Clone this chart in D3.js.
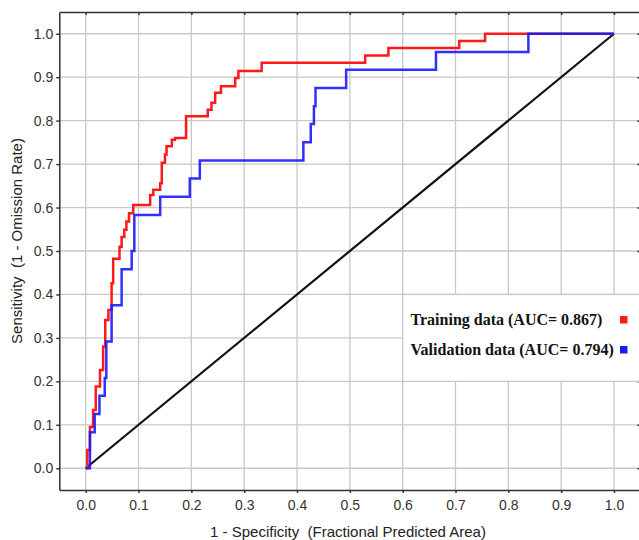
<!DOCTYPE html>
<meta charset="utf-8">
<style>

body {
  margin: 0;
  background: white;
}

.grid line {
  stroke: #c8c8c8;
  stroke-width: 1.3px;
}

.axis path,
.axis line {
  stroke: #333;
  stroke-width: 1.5px;
}

.axis text {
  font: 14px "Liberation Sans", Arial, sans-serif;
  fill: #333;
}

.title {
  font: 15px "Liberation Sans", Arial, sans-serif;
  fill: #222;
  text-anchor: middle;
  white-space: pre;
}

.legend text {
  font: bold 16px "Liberation Serif", "Times New Roman", serif;
  fill: #111;
}

.roc {
  fill: none;
  stroke-width: 2.5px;
  stroke-linejoin: miter;
}

</style>
<svg></svg>
<script src="https://cdn.jsdelivr.net/npm/d3@7"></script>
<script>

var tickValues = [0, 0.1, 0.2, 0.3, 0.4, 0.5, 0.6, 0.7, 0.8, 0.9, 1.0];

// Training ROC (1 - specificity, sensitivity), step corners
var trainFpr = [0, 0.003, 0.008, 0.014, 0.019, 0.027, 0.033, 0.037, 0.043, 0.049,
  0.052, 0.064, 0.068, 0.073, 0.077, 0.082, 0.090, 0.122, 0.128, 0.141,
  0.144, 0.150, 0.153, 0.163, 0.169, 0.190, 0.231, 0.238, 0.245, 0.256,
  0.283, 0.289, 0.333, 0.529, 0.573, 0.707, 0.756, 1.0];
var trainTpr = [0, 0.042, 0.095, 0.134, 0.188, 0.226, 0.280, 0.341, 0.364, 0.426,
  0.482, 0.510, 0.532, 0.549, 0.568, 0.587, 0.606, 0.629, 0.641, 0.656,
  0.703, 0.722, 0.741, 0.756, 0.760, 0.810, 0.825, 0.841, 0.864, 0.879,
  0.898, 0.914, 0.933, 0.950, 0.967, 0.983, 1.0, 1.0];

// Validation ROC
var validFpr = [0, 0.008, 0.017, 0.026, 0.036, 0.039, 0.049, 0.068, 0.087, 0.092,
  0.141, 0.197, 0.216, 0.412, 0.426, 0.432, 0.435, 0.493, 0.663, 0.838, 1.0];
var validTpr = [0, 0.083, 0.125, 0.167, 0.208, 0.292, 0.375, 0.458, 0.5, 0.583,
  0.625, 0.667, 0.708, 0.75, 0.792, 0.833, 0.875, 0.917, 0.958, 1.0, 1.0];

var randomLine = [0, 1];

var legendLabels = ['Training data (AUC= 0.867)', 'Validation data (AUC= 0.794)'];
var legendColors = ['#ff1a1a', '#1a1aff'];

var width = 639;
var height = 540;
var plotLeft = 59.3, plotRight = 640.4, plotTop = 12, plotBottom = 490;

var svg = d3.select('svg')
  .attr('width', width)
  .attr('height', height);

var x = d3.scaleLinear().domain([-0.05, 1.05]).range([plotLeft, plotRight]);
var y = d3.scaleLinear().domain([-0.05, 1.05]).range([plotBottom, plotTop]);

var grid = svg.append('g').attr('class', 'grid');

grid.selectAll('line.v')
  .data(tickValues)
  .enter().append('line')
  .attr('class', 'v')
  .attr('x1', function (d) { return x(d); })
  .attr('x2', function (d) { return x(d); })
  .attr('y1', plotTop)
  .attr('y2', plotBottom);

grid.selectAll('line.h')
  .data(tickValues)
  .enter().append('line')
  .attr('class', 'h')
  .attr('x1', plotLeft)
  .attr('x2', plotRight)
  .attr('y1', function (d) { return y(d); })
  .attr('y2', function (d) { return y(d); });

var fmt = d3.format('.1f');

svg.append('g')
  .attr('class', 'axis')
  .attr('transform', 'translate(0,' + plotBottom + ')')
  .call(d3.axisBottom(x).tickValues(tickValues).tickFormat(fmt).tickSize(3).tickSizeOuter(0).tickPadding(7));

svg.append('g')
  .attr('class', 'axis')
  .attr('transform', 'translate(' + plotLeft + ',0)')
  .call(d3.axisLeft(y).tickValues(tickValues).tickFormat(fmt).tickSize(3).tickSizeOuter(0).tickPadding(3));

svg.append('g')
  .attr('class', 'axis')
  .attr('transform', 'translate(0,' + plotTop + ')')
  .call(d3.axisTop(x).tickValues(tickValues).tickFormat('').tickSize(-3).tickSizeOuter(0));

svg.append('g')
  .attr('class', 'axis')
  .attr('transform', 'translate(' + plotRight + ',0)')
  .call(d3.axisRight(y).tickValues(tickValues).tickFormat('').tickSize(-3).tickSizeOuter(0));

// legend box, hides the grid under it
var legend = svg.append('g').attr('class', 'legend');

legend.append('rect')
  .attr('x', x(0.6))
  .attr('y', y(0.4))
  .attr('width', plotRight - x(0.6))
  .attr('height', y(0.2) - y(0.4))
  .attr('fill', 'white')
  .attr('stroke', '#c8c8c8')
  .attr('stroke-width', 1.3);

var line = d3.line()
  .x(function (d) { return x(d[0]); })
  .y(function (d) { return y(d[1]); });

svg.append('path')
  .attr('d', line(randomLine.map(function (d) { return [d, d]; })))
  .attr('fill', 'none')
  .attr('stroke', '#111')
  .attr('stroke-width', 2.2);

var stepLine = d3.line()
  .x(function (d) { return x(d[0]); })
  .y(function (d) { return y(d[1]); })
  .curve(d3.curveStepAfter);

svg.append('path')
  .attr('class', 'roc')
  .attr('d', stepLine(d3.zip(trainFpr, trainTpr)))
  .attr('stroke', legendColors[0]);

svg.append('path')
  .attr('class', 'roc')
  .attr('d', stepLine(d3.zip(validFpr, validTpr)))
  .attr('stroke', legendColors[1])
  .attr('stroke-opacity', 0.9);

var item = legend.selectAll('g.item')
  .data(legendLabels)
  .enter().append('g')
  .attr('class', 'item')
  .attr('transform', function (d, i) { return 'translate(0,' + (325 + i * 30) + ')'; });

item.append('text')
  .attr('x', 410.5)
  .attr('y', 0)
  .text(function (d) { return d; });

item.append('rect')
  .attr('x', 620)
  .attr('y', -9)
  .attr('width', 7.5)
  .attr('height', 7.5)
  .attr('fill', function (d, i) { return legendColors[i]; });

svg.append('text')
  .attr('class', 'title')
  .attr('x', 348)
  .attr('y', 537)
  .text('1 - Specificity  (Fractional Predicted Area)');

svg.append('text')
  .attr('class', 'title')
  .attr('transform', 'translate(22,241) rotate(-90)')
  .text('Sensitivity  (1 - Omission Rate)');

</script>
